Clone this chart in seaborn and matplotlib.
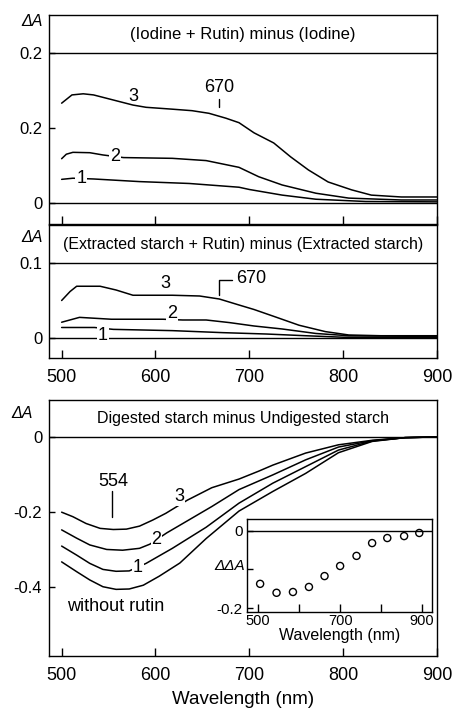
import numpy as np
import pandas as pd
import matplotlib
matplotlib.use("Agg")
import matplotlib.pyplot as plt
import seaborn as sns

# ---------------- data ----------------
# Panel A: (Iodine + Rutin) minus (Iodine)
a3_wl = [500, 511, 523, 534, 548, 562, 576, 590, 618, 639, 657, 675, 689, 705, 726, 744, 763, 784, 809, 830, 862, 900]
a3_dA = [0.266, 0.288, 0.291, 0.288, 0.279, 0.270, 0.261, 0.255, 0.250, 0.246, 0.239, 0.226, 0.214, 0.187, 0.160, 0.123, 0.088, 0.056, 0.035, 0.021, 0.016, 0.016]
a2_wl = [500, 505, 512, 530, 544, 566, 618, 654, 689, 710, 735, 771, 806, 862, 900]
a2_dA = [0.118, 0.130, 0.135, 0.134, 0.128, 0.121, 0.119, 0.113, 0.095, 0.070, 0.048, 0.026, 0.013, 0.008, 0.008]
a1_wl = [500, 512, 534, 583, 636, 689, 700, 735, 771, 824, 900]
a1_dA = [0.063, 0.066, 0.064, 0.057, 0.052, 0.042, 0.036, 0.021, 0.010, 0.004, 0.003]

# Panel B: (Extracted starch + Rutin) minus (Extracted starch)
b3_wl = [500, 509, 516, 541, 558, 576, 618, 647, 668, 689, 705, 728, 753, 781, 806, 840, 900]
b3_dA = [0.050, 0.062, 0.069, 0.069, 0.064, 0.057, 0.057, 0.056, 0.052, 0.044, 0.038, 0.028, 0.017, 0.0085, 0.004, 0.003, 0.003]
b2_wl = [500, 519, 553, 608, 629, 654, 679, 705, 735, 771, 806, 900]
b2_dA = [0.021, 0.0275, 0.025, 0.025, 0.024, 0.024, 0.0205, 0.016, 0.012, 0.006, 0.003, 0.002]
b1_wl = [500, 535, 555, 618, 672, 718, 760, 800, 900]
b1_dA = [0.014, 0.014, 0.0115, 0.0098, 0.0071, 0.0053, 0.003, 0.001, 0.001]

# Panel C: Digested starch minus Undigested starch
c3_wl = [500, 512, 526, 541, 555, 569, 583, 597, 611, 634, 660, 689, 710, 725, 760, 795, 831, 866, 900]
c3_dA = [-0.200, -0.212, -0.230, -0.243, -0.246, -0.245, -0.237, -0.221, -0.203, -0.168, -0.135, -0.112, -0.091, -0.075, -0.043, -0.021, -0.009, -0.002, 0.0]
c2_wl = [500, 516, 530, 548, 565, 583, 594, 612, 636, 660, 689, 725, 760, 795, 831, 866, 900]
c2_dA = [-0.247, -0.269, -0.287, -0.299, -0.301, -0.296, -0.285, -0.255, -0.220, -0.185, -0.140, -0.101, -0.061, -0.027, -0.010, -0.002, 0.0]
c1_wl = [500, 516, 530, 544, 558, 572, 590, 618, 654, 689, 725, 760, 795, 831, 866, 900]
c1_dA = [-0.290, -0.314, -0.336, -0.352, -0.357, -0.356, -0.336, -0.296, -0.240, -0.176, -0.123, -0.079, -0.035, -0.011, -0.002, 0.0]
c0_wl = [500, 516, 530, 544, 558, 572, 587, 604, 626, 654, 689, 725, 760, 795, 831, 866, 900]
c0_dA = [-0.332, -0.358, -0.380, -0.398, -0.405, -0.404, -0.394, -0.370, -0.335, -0.270, -0.197, -0.145, -0.097, -0.042, -0.012, -0.002, 0.0]

# Inset: difference of difference spectra
inset_wl = [505, 545, 585, 624, 662, 700, 740, 778, 815, 856, 893]
inset_ddA = [-0.137, -0.160, -0.158, -0.145, -0.117, -0.091, -0.065, -0.032, -0.019, -0.014, -0.006]

x_ticks = [500, 600, 700, 800, 900]
titles = ["(Iodine + Rutin) minus (Iodine)",
          "(Extracted starch + Rutin) minus (Extracted starch)",
          "Digested starch minus Undigested starch"]

# ---------------- style ----------------
sns.set_theme(style="ticks")
plt.rcParams['font.family'] = ['Liberation Sans', 'DejaVu Sans']
plt.rcParams['axes.linewidth'] = 1.0
plt.rcParams['axes.edgecolor'] = 'black'
plt.rcParams['text.color'] = 'black'
plt.rcParams['axes.labelcolor'] = 'black'
plt.rcParams['xtick.color'] = 'black'
plt.rcParams['ytick.color'] = 'black'

W, H = 453, 710
fig = plt.figure(figsize=(W / 100, H / 100), dpi=100)


def px_axes(l, t, r, b):
    return fig.add_axes([l / W, 1 - b / H, (r - l) / W, (b - t) / H])


def long_df(curves):
    frames = []
    for name, wl, da in curves:
        frames.append(pd.DataFrame({"wl": wl, "dA": da, "curve": name}))
    return pd.concat(frames, ignore_index=True)


def draw_panel(ax, curves):
    df = long_df(curves)
    sns.lineplot(data=df, x="wl", y="dA", units="curve", estimator=None,
                 color="black", lw=1.1, sort=True, ax=ax, legend=False, zorder=2)
    ax.axhline(0, color="black", lw=1.0, zorder=1)
    ax.set_xlim(486, 900)
    ax.set_xticks(x_ticks)
    ax.set_xlabel("")
    ax.set_ylabel("")
    for s in ax.spines.values():
        s.set_visible(True)
        s.set_linewidth(1.0)
        s.set_color("black")
    ax.tick_params(axis="x", direction="in", length=6, width=1.0, pad=8,
                   labelsize=13, top=False)
    ax.tick_params(axis="y", direction="in", length=4, width=1.0, pad=4.5,
                   labelsize=12, right=False)


lbl_box = dict(facecolor="white", edgecolor="none", pad=0.6)

# ---- Panel A ----
axA = px_axes(48.5, 15, 437, 224)
draw_panel(axA, [("3", a3_wl, a3_dA), ("2", a2_wl, a2_dA), ("1", a1_wl, a1_dA)])
axA.set_ylim(-0.056, 0.501)
axA.axhline(0.4, color="black", lw=1.0)
axA.set_yticks([0, 0.2, 0.4])
axA.set_yticklabels(["0", "0.2", "0.2"])
axA.set_xticklabels([])
axA.text(693, 0.45, titles[0], ha="center", va="center", fontsize=12)
axA.text(576, 0.2835, "3", ha="center", va="center", fontsize=13)
axA.text(557, 0.125, "2", ha="center", va="center", fontsize=13, bbox=lbl_box, zorder=5)
axA.text(521, 0.064, "1", ha="center", va="center", fontsize=13, bbox=lbl_box, zorder=5)
axA.text(668, 0.3085, "670", ha="center", va="center", fontsize=13)
axA.plot([668, 668], [0.255, 0.2765], color="black", lw=1.0)

# ---- Panel B ----
axB = px_axes(48.5, 225, 437, 358)
draw_panel(axB, [("3", b3_wl, b3_dA), ("2", b2_wl, b2_dA), ("1", b1_wl, b1_dA)])
axB.set_ylim(-0.0267, 0.1507)
axB.axhline(0.1, color="black", lw=1.0)
axB.set_yticks([0, 0.1])
axB.set_yticklabels(["0", "0.1"])
axB.text(693, 0.125, titles[1], ha="center", va="center", fontsize=11.5)
axB.text(610, 0.073, "3", ha="center", va="center", fontsize=13)
axB.text(618, 0.032, "2", ha="center", va="center", fontsize=13, bbox=lbl_box, zorder=5)
axB.text(544, 0.003, "1", ha="center", va="center", fontsize=13, bbox=lbl_box, zorder=5)
axB.plot([668, 668, 682], [0.057, 0.078, 0.078], color="black", lw=1.0)
axB.text(686, 0.0796, "670", ha="left", va="center", fontsize=13)

# ---- Panel C ----
axC = px_axes(48.5, 400, 437, 656)
draw_panel(axC, [("3", c3_wl, c3_dA), ("2", c2_wl, c2_dA), ("1", c1_wl, c1_dA),
                 ("0", c0_wl, c0_dA)])
axC.set_ylim(-0.582, 0.098)
axC.set_yticks([0, -0.2, -0.4])
axC.set_yticklabels(["0", "-0.2", "-0.4"])
axC.set_xlabel("Wavelength (nm)", fontsize=13.5, labelpad=5)
axC.text(693, 0.05, titles[2], ha="center", va="center", fontsize=11.5)
axC.text(625, -0.158, "3", ha="center", va="center", fontsize=13, bbox=lbl_box, zorder=5)
axC.text(601, -0.272, "2", ha="center", va="center", fontsize=13, bbox=lbl_box, zorder=5)
axC.text(581, -0.348, "1", ha="center", va="center", fontsize=13, bbox=lbl_box, zorder=5)
axC.text(555, -0.119, "554", ha="center", va="center", fontsize=13)
axC.plot([554, 554], [-0.212, -0.145], color="black", lw=1.0)
axC.text(558, -0.451, "without rutin", ha="center", va="center", fontsize=13)

# ---- Inset ----
axI = px_axes(247, 519, 432, 612)
axI.set_facecolor("white")
axI.set_zorder(10)
sns.scatterplot(x=inset_wl, y=inset_ddA, ax=axI, marker="o", s=26,
                facecolor="none", edgecolor="black", linewidth=1.0, legend=False)
axI.axhline(0, color="black", lw=1.0)
axI.set_xlim(473, 924)
axI.set_ylim(-0.2095, 0.030)
axI.set_xticks(x_ticks)
axI.set_xticklabels(["500", "", "700", "", "900"])
axI.set_yticks([0, -0.1, -0.2])
axI.set_yticklabels(["0", "", "-0.2"])
for s in axI.spines.values():
    s.set_visible(True)
    s.set_linewidth(1.0)
    s.set_color("black")
axI.tick_params(axis="x", direction="in", length=6, width=1.0, pad=1.5, labelsize=10.5)
axI.tick_params(axis="y", direction="in", length=4, width=1.0, pad=3, labelsize=11)
axI.set_xlabel("Wavelength (nm)", fontsize=11.5, labelpad=0)
axI.set_ylabel("ΔΔA", fontsize=11, rotation=0, style="italic", ha="right", va="center")
axI.yaxis.set_label_coords(-0.01, 0.49)

# ---- ΔA labels ----
fig.text(43 / W, 1 - 22 / H, "ΔA", ha="right", va="center", fontsize=11.5, style="italic")
fig.text(43 / W, 1 - 238 / H, "ΔA", ha="right", va="center", fontsize=11.5, style="italic")
fig.text(33 / W, 1 - 413 / H, "ΔA", ha="right", va="center", fontsize=11.5, style="italic")

fig.savefig("out.png", dpi=100)
